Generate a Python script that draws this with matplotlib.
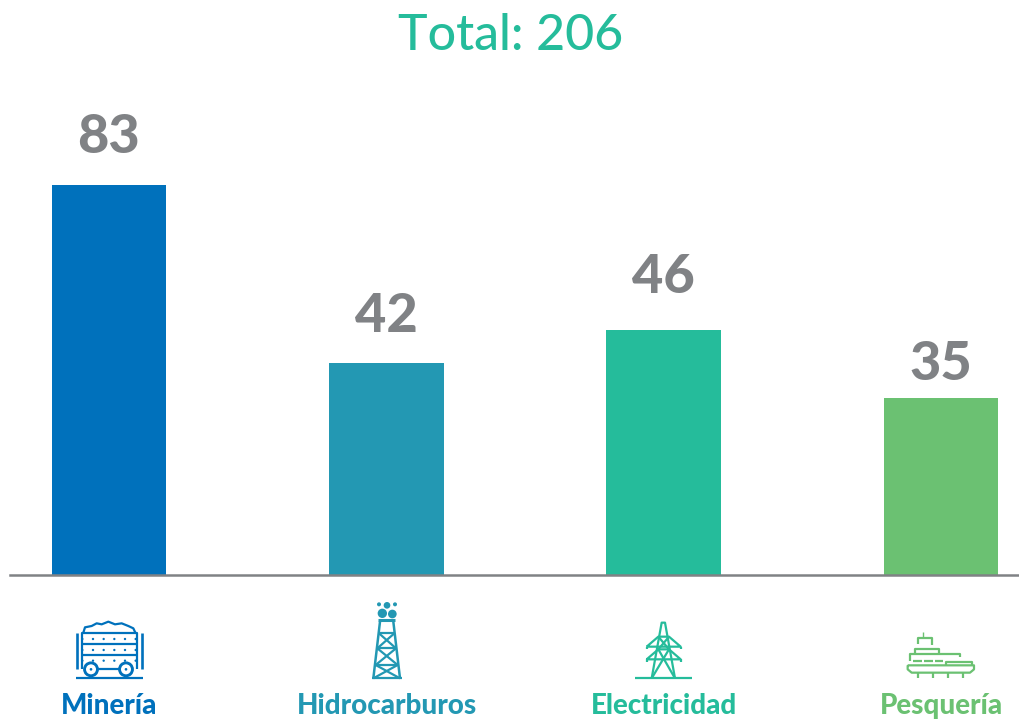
#!/usr/bin/env python3
import matplotlib
matplotlib.use('Agg')
import matplotlib.pyplot as plt
from matplotlib.patches import Circle

categories = ['Minería', 'Hidrocarburos', 'Electricidad', 'Pesquería']
# printed numbers
values = [83, 42, 46, 35]
# the drawn bars in the picture are not to scale with the printed numbers
bar_heights = [83, 45.1, 52.1, 37.7]
colors = ['#0071BC', '#2398B3', '#25BC9B', '#6BC172']
title = 'Total: 206'
grey = '#808285'
# gap between bar top and number baseline, px
label_gaps = [32, 31, 37, 18]

plt.rcParams['font.family'] = ['Lato', 'DejaVu Sans']

W, H = 1020, 719
fig = plt.figure(figsize=(W / 100, H / 100), dpi=100)

# bars axes, baseline at y=575px, from x=10 to the right edge
ax = fig.add_axes([10 / W, (H - 575) / H, 1 - 10 / W, 575 / H])
ax.set_xlim(-99 / 277.33, 911 / 277.33)
ax.set_ylim(0, 575 / 4.7)
xs = range(len(categories))
ax.bar(xs, bar_heights, width=0.413, color=colors)
for x, h, v, g in zip(xs, bar_heights, values, label_gaps):
    ax.annotate(str(v), (x, h), xytext=(0, g * 0.72), textcoords='offset points',
                ha='center', va='baseline', fontsize=39, fontweight='black', color=grey)
for s in ['top', 'left', 'right']:
    ax.spines[s].set_visible(False)
ax.spines['bottom'].set_color(grey)
ax.spines['bottom'].set_linewidth(1.8)
ax.set_xticks([])
ax.set_yticks([])
ax.patch.set_alpha(0)

# overlay in pixel coordinates for the title, icons and names
ov = fig.add_axes([0, 0, 1, 1])
ov.set_xlim(0, W)
ov.set_ylim(H, 0)
ov.axis('off')
ov.patch.set_alpha(0)

ov.text(510.5, 50, title, ha='center', va='baseline', fontsize=36,
        fontweight='medium', color=colors[2])
for cx, name, c in zip([109, 387, 664, 941], categories, colors):
    ov.text(cx, 714, name, ha='center', va='baseline', fontsize=20,
            fontweight='black', color=c)


def poly(pts, c, x0, lw=1.6):
    # points are given in 3x crop units, from y=590 down
    ov.plot([x0 + p[0] / 3 for p in pts], [590 + p[1] / 3 for p in pts],
            color=c, lw=lw, solid_capstyle='butt', solid_joinstyle='round')


def blob(x, y, r, c, x0, fill=True, lw=1.3):
    ov.add_patch(Circle((x0 + x / 3, 590 + y / 3), r / 3, facecolor=c if fill else 'white',
                        edgecolor=c, lw=lw, zorder=3))


# mining cart
c = colors[0]
x0 = 50
poly([(78, 265), (278, 265)], c, x0)
poly([(80, 130), (80, 238)], c, x0, 1.9)
poly([(275, 130), (275, 238)], c, x0, 1.9)
poly([(95, 238), (95, 130), (262, 130), (262, 238)], c, x0)
poly([(95, 162), (262, 162)], c, x0)
poly([(95, 195), (262, 195)], c, x0)
poly([(135, 238), (215, 238)], c, x0)
poly([(100, 128), (105, 112), (125, 108), (140, 100), (155, 103), (175, 95), (195, 103),
      (215, 100), (235, 108), (250, 115), (257, 130)], c, x0)
for yd in [147, 180, 212]:
    for xd in [97, 129, 161, 193, 225, 257]:
        blob(xd, yd, 3.5, c, x0, lw=0)
blob(123, 238, 21, c, x0)
blob(228, 238, 21, c, x0)
blob(123, 238, 15, c, x0, fill=False, lw=0)
blob(228, 238, 15, c, x0, fill=False, lw=0)
blob(123, 238, 4, c, x0, lw=0)
blob(228, 238, 4, c, x0, lw=0)

# oil derrick
c = colors[1]
poly([(965, 265), (1055, 265)], c, x0)
poly([(970, 265), (990, 95)], c, x0, 1.8)
poly([(1050, 265), (1030, 95)], c, x0, 1.8)
poly([(985, 91), (1035, 91)], c, x0, 2.2)
poly([(987, 130), (1033, 130)], c, x0)
poly([(982, 175), (1038, 175)], c, x0)
poly([(977, 225), (1043, 225)], c, x0)
poly([(987, 130), (1038, 175)], c, x0)
poly([(1033, 130), (982, 175)], c, x0)
poly([(982, 175), (1043, 225)], c, x0)
poly([(1038, 175), (977, 225)], c, x0)
poly([(977, 225), (1050, 265)], c, x0)
poly([(1043, 225), (970, 265)], c, x0)
for xd, yd, r in [(1011, 46, 10), (987, 43, 6), (1035, 43, 6), (997, 70, 14), (1027, 72, 13)]:
    blob(xd, yd, r, c, x0, lw=0)

# power tower
c = colors[2]
x0 = 570
poly([(195, 265), (365, 265)], c, x0)
poly([(245, 265), (275, 98), (285, 98), (315, 265)], c, x0)
poly([(230, 170), (265, 140), (297, 140), (332, 170), (230, 170)], c, x0)
poly([(230, 208), (265, 178), (297, 178), (332, 208), (230, 208)], c, x0)
poly([(230, 170), (230, 178)], c, x0)
poly([(332, 170), (332, 178)], c, x0)
poly([(230, 208), (230, 215)], c, x0)
poly([(332, 208), (332, 215)], c, x0)
poly([(265, 140), (297, 178)], c, x0)
poly([(297, 140), (265, 178)], c, x0)
poly([(265, 178), (315, 265)], c, x0)
poly([(297, 178), (245, 265)], c, x0)

# ship
c = colors[3]
poly([(1058, 125), (1058, 142)], c, x0, 1)
poly([(1045, 163), (1045, 143), (1085, 143), (1085, 165)], c, x0)
poly([(1035, 192), (1035, 177), (1108, 177), (1108, 192)], c, x0)
poly([(1020, 213), (1020, 193), (1170, 193), (1170, 200)], c, x0)
poly([(1030, 213), (1055, 213)], c, x0)
poly([(1062, 213), (1090, 213)], c, x0)
poly([(1095, 213), (1118, 213)], c, x0)
poly([(1128, 225), (1128, 215), (1205, 215), (1205, 225)], c, x0)
poly([(1013, 226), (1212, 226), (1212, 238), (1200, 248), (1025, 248), (1013, 238), (1013, 226)], c, x0)
poly([(1045, 265), (1045, 250)], c, x0)
poly([(1090, 265), (1090, 250)], c, x0)
poly([(1135, 265), (1135, 250)], c, x0)
poly([(1180, 265), (1180, 250)], c, x0)

fig.savefig('out.png', dpi=100)
